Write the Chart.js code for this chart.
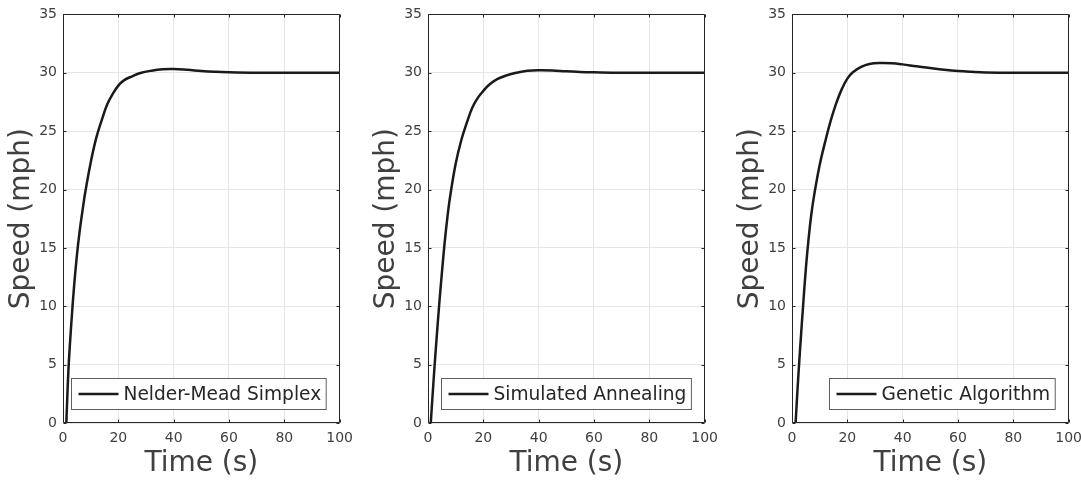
<!DOCTYPE html>
<html>
<head>
<meta charset="utf-8">
<script src="https://cdn.jsdelivr.net/npm/chart.js@4/dist/chart.umd.min.js"></script>
<style>
  html, body { margin:0; padding:0; background:#fff; overflow:hidden; }
  body { width:1081px; height:484px; position:relative; }
  .panel { position:absolute; top:0; width:360px; height:484px; }
</style>
</head>
<body>
<div class="panel" style="left:0px"><canvas id="c1" width="360" height="484"></canvas></div>
<div class="panel" style="left:365px"><canvas id="c2" width="360" height="484"></canvas></div>
<div class="panel" style="left:729px"><canvas id="c3" width="360" height="484"></canvas></div>
<script>
// data
const timeNM  = [1.2, 2, 3, 4, 5, 6, 7, 8, 10, 12, 14, 16, 18, 20, 22, 25, 28, 32, 36, 40, 45, 50, 55, 60, 70, 80, 100];
const speedNM = [0, 4.7, 8.5, 11.7, 14.3, 16.4, 18.1, 19.7, 22.3, 24.4, 25.95, 27.3, 28.2, 28.9, 29.35, 29.7, 29.98, 30.18, 30.3, 30.32, 30.25, 30.15, 30.08, 30.04, 30.0, 30.0, 30.0];

const timeSA  = [1.0, 2, 3, 4, 5, 6, 7, 8, 10, 12, 14, 16, 18, 20, 22, 25, 28, 32, 36, 40, 45, 50, 55, 60, 70, 80, 100];
const speedSA = [0, 3.6, 6.9, 10, 12.8, 15.4, 17.6, 19.4, 22.2, 24.2, 25.7, 27.0, 27.85, 28.45, 28.95, 29.45, 29.75, 30.0, 30.17, 30.22, 30.2, 30.12, 30.07, 30.04, 30.0, 30.0, 30.0];

const timeGA  = [1.3, 2, 3, 4, 5, 6, 7, 8, 10, 12, 14, 16, 18, 20, 22, 25, 28, 32, 36, 40, 45, 50, 55, 60, 65, 70, 80, 100];
const speedGA = [0, 2.9, 6.6, 10, 13.2, 15.8, 17.9, 19.5, 22.1, 24.1, 25.9, 27.4, 28.6, 29.5, 30.05, 30.5, 30.75, 30.84, 30.82, 30.72, 30.55, 30.4, 30.26, 30.15, 30.08, 30.03, 30.0, 30.0];

const legendNames = ["Nelder-Mead Simplex", "Simulated Annealing", "Genetic Algorithm"];
const xTicks = [0, 20, 40, 60, 80, 100];
const yTicks = [0, 5, 10, 15, 20, 25, 30, 35];

const FONT = "'DejaVu Sans', sans-serif";

// box round the plot with inward ticks, plus the legend in the lower right
const boxPlugin = {
  id: 'box',
  afterDatasetsDraw(chart) {
    const ctx = chart.ctx, a = chart.chartArea;
    const xs = chart.scales.x, ys = chart.scales.y;
    ctx.save();
    ctx.strokeStyle = '#262626';
    ctx.lineWidth = 1;
    ctx.beginPath();
    const L = Math.round(a.left) + 0.5, R = Math.round(a.right) - 0.5;
    const T = Math.round(a.top) + 0.5, B = Math.round(a.bottom) - 0.5;
    ctx.rect(L, T, R - L, B - T);
    const tl = 3;
    xTicks.forEach(v => {
      const px = Math.round(xs.getPixelForValue(v)) + 0.5;
      ctx.moveTo(px, B); ctx.lineTo(px, B - tl);
      ctx.moveTo(px, T); ctx.lineTo(px, T + tl);
    });
    yTicks.forEach(v => {
      const py = Math.round(ys.getPixelForValue(v)) + 0.5;
      ctx.moveTo(L, py); ctx.lineTo(L + tl, py);
      ctx.moveTo(R, py); ctx.lineTo(R - tl, py);
    });
    ctx.stroke();

    // legend
    const name = chart.data.datasets[0].label;
    ctx.font = '18.6px ' + FONT;
    const tw = ctx.measureText(name).width;
    const w = 7 + 40 + 5 + tw + 5, h = 31;
    const bx = Math.round(a.right - 13.5 - w) + 0.5;
    const by = Math.round(a.bottom - 14 - h) + 0.5;
    ctx.fillStyle = '#fff';
    ctx.fillRect(bx, by, w, h);
    ctx.strokeStyle = '#606060';
    ctx.strokeRect(bx, by, w, h);
    ctx.strokeStyle = '#1a1a1a';
    ctx.lineWidth = 2.5;
    ctx.beginPath();
    ctx.moveTo(bx + 7, by + h / 2);
    ctx.lineTo(bx + 47, by + h / 2);
    ctx.stroke();
    ctx.fillStyle = '#262626';
    ctx.textBaseline = 'middle';
    ctx.fillText(name, bx + 52, by + h / 2 + 1);
    ctx.restore();
  }
};

function makeChart(id, times, speeds, name) {
  const pts = times.map((t, i) => ({ x: t, y: speeds[i] }));
  return new Chart(document.getElementById(id), {
    type: 'line',
    data: {
      datasets: [{
        label: name,
        data: pts,
        borderColor: '#1a1a1a',
        borderWidth: 2.5,
        pointRadius: 0,
        tension: 0.4,
        fill: false
      }]
    },
    options: {
      responsive: false,
      animation: false,
      layout: { padding: { top: 14, right: 19.5, bottom: 0, left: 0 } },
      plugins: { legend: { display: false }, tooltip: { enabled: false } },
      scales: {
        x: {
          type: 'linear', min: 0, max: 100,
          afterBuildTicks: s => { s.ticks = xTicks.map(v => ({ value: v })); },
          afterFit: s => { s.height = 61; },
          grid: { color: '#e6e6e6', drawTicks: false },
          border: { display: false },
          ticks: { padding: 7, color: '#404040', font: { family: FONT, size: 14 }, maxRotation: 0 },
          title: { display: true, text: 'Time (s)', color: '#404040',
                   font: { family: FONT, size: 28 }, padding: { top: 0, bottom: 3 } }
        },
        y: {
          min: 0, max: 35,
          afterBuildTicks: s => { s.ticks = yTicks.map(v => ({ value: v })); },
          afterFit: s => { s.width = 63; },
          grid: { color: '#e6e6e6', drawTicks: false },
          border: { display: false },
          ticks: { padding: 6, color: '#404040', font: { family: FONT, size: 14 } },
          title: { display: true, text: 'Speed (mph)', color: '#404040',
                   font: { family: FONT, size: 28 }, padding: { top: 5, bottom: 0 } }
        }
      }
    },
    plugins: [boxPlugin]
  });
}

makeChart('c1', timeNM, speedNM, legendNames[0]);
makeChart('c2', timeSA, speedSA, legendNames[1]);
makeChart('c3', timeGA, speedGA, legendNames[2]);
</script>
</body>
</html>
